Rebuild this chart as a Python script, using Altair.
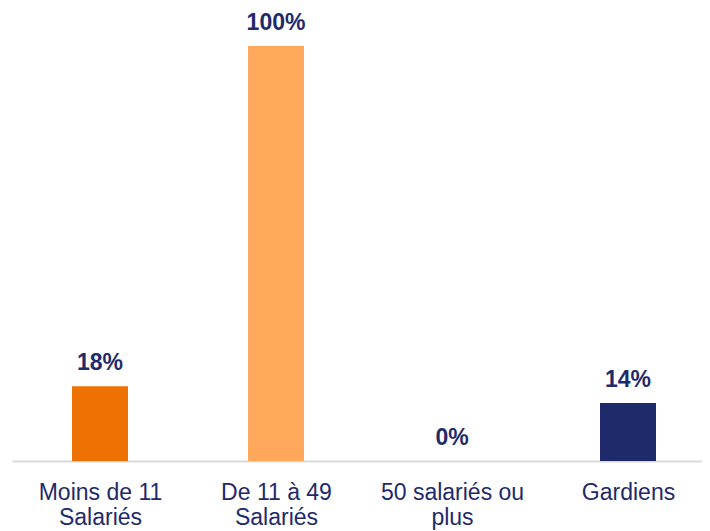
import json
import altair as alt
import pandas as pd

categories = ["Moins de 11|Salariés", "De 11 à 49|Salariés", "50 salariés ou|plus", "Gardiens"]
values = [18, 100, 0, 14]
labels = ["18%", "100%", "0%", "14%"]
colors = ["#ED7203", "#FFA75B", "#FFFFFF", "#1F2A6B"]

idx = list(range(len(categories)))
df = pd.DataFrame({"idx": idx, "cat": categories, "val": values, "lab": labels, "col": colors})

W = 690
STEP = 176
xscale = alt.Scale(domain=[-0.5, -0.5 + W / STEP], nice=False, zero=False, padding=0)
label_arr = json.dumps(categories, ensure_ascii=False)
x = alt.X("idx:Q", title=None, scale=xscale,
          axis=alt.Axis(values=idx, ticks=False, grid=False, domainColor="#D9D9D9", domainWidth=2,
                        labelColor="#1F2A6B", labelFont="Liberation Sans", labelFontSize=23,
                        labelPadding=38, labelLineHeight=25, labelBaseline="alphabetic",
                        labelAlign="center", labelFlush=False, labelOverlap=False,
                        labelExpr=f"split({label_arr}[datum.value], '|')"))
y = alt.Y("val:Q", scale=alt.Scale(domain=[0, 100]), axis=None)

bars = alt.Chart(df).mark_bar(size=56).encode(x=x, y=y, color=alt.Color("col:N", scale=None))
text = alt.Chart(df).mark_text(baseline="alphabetic", dy=-16, fontSize=23, fontWeight="bold",
                               font="Liberation Sans", color="#1F2A6B").encode(
    x=alt.X("idx:Q", scale=xscale), y=y, text="lab:N")

chart = (bars + text).properties(
    width=W, height=415,
    autosize=alt.AutoSizeParams(type="none"),
    padding={"left": 4, "top": 38, "right": 0, "bottom": 70},
).configure_view(stroke=None)

chart.save("out.html", embed_options={"renderer": "svg", "actions": False})
